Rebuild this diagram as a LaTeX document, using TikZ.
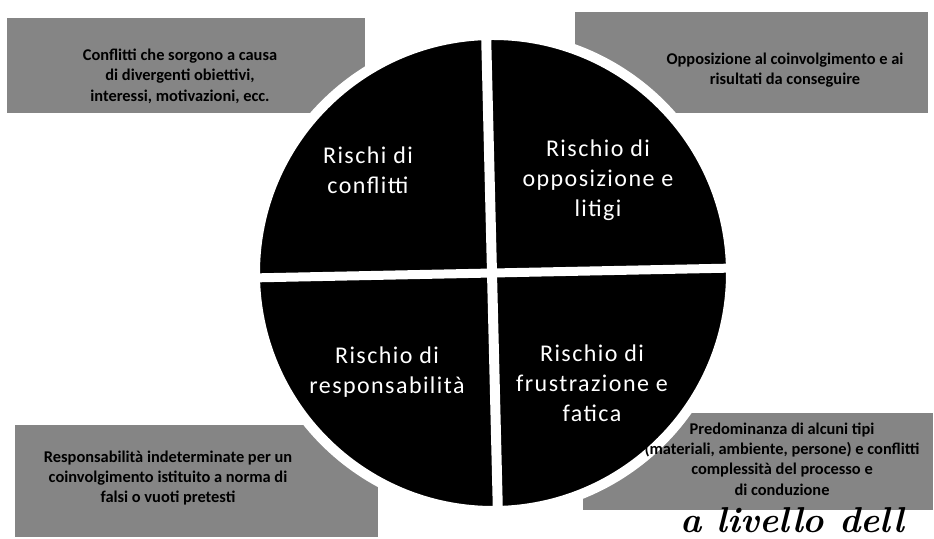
\documentclass[tikz,border=0pt]{standalone}
\usepackage{fontspec}
\newfontfamily\boxfont{Carlito}
\newfontfamily\riskfont[LetterSpace=6]{Carlito}
\usepackage{tikz}
\usetikzlibrary{positioning}

\tikzset{
	notebox/.style = {fill = black!48},
	notetext/.style = {align = center, text = black, font = \boxfont\bfseries\fontsize{8.2}{10.2}\selectfont},
	risklabel/.style = {align = center, text = white, font = \riskfont\fontsize{12}{15}\selectfont}
}

\begin{document}
\begin{tikzpicture}[x = 0.5pt, y = -0.5pt]
		\useasboundingbox (0, 0) rectangle (934, 539);
		\fill[white] (0, 0) rectangle (934, 539);
		\fill[notebox] (7, 18) rectangle (365, 113);
		\fill[notebox] (575, 12) rectangle (928, 113);
		\fill[notebox] (15, 425) rectangle (378, 537);
		\fill[notebox] (583, 413) rectangle (933, 510);
		\filldraw[fill = black, draw = white, line width = 5pt] (493, 273) circle (238);
		\draw[white, line width = 5pt] (486, 30) -- (498, 516);
		\draw[white, line width = 4.5pt] (250, 278) -- (736, 268);
		\node[risklabel] (conflitti) at (368, 170) {Rischi di\\conflitti};
		\node[risklabel] (opposizione) at (598, 180) {Rischio di\\opposizione e\\litigi};
		\node[risklabel] (responsabilita) at (387, 372) {Rischio di\\responsabilità};
		\node[risklabel] (frustrazione) at (592, 383) {Rischio di\\frustrazione e\\fatica};
		\node[notetext] (notaconflitti) at (180, 76) {Conflitti che sorgono a causa\\di divergenti obiettivi,\\interessi, motivazioni, ecc.};
		\node[notetext] (notaopposizione) at (785, 70) {Opposizione al coinvolgimento e ai\\risultati da conseguire};
		\node[notetext] (notaresponsabilita) at (168, 478) {Responsabilità indeterminate per un\\coinvolgimento istituito a norma di\\falsi o vuoti pretesti};
		\node[notetext] (notafrustrazione) at (782, 459) {Predominanza di alcuni tipi\\(materiali, ambiente, persone) e conflitti\\complessità del processo e\\di conduzione};
		\node[anchor = base west, inner sep = 0pt, font = \bfseries\itshape\fontsize{18}{22}\selectfont] (didascalia) at (680, 533) {a livello dell};
\end{tikzpicture}
\end{document}
